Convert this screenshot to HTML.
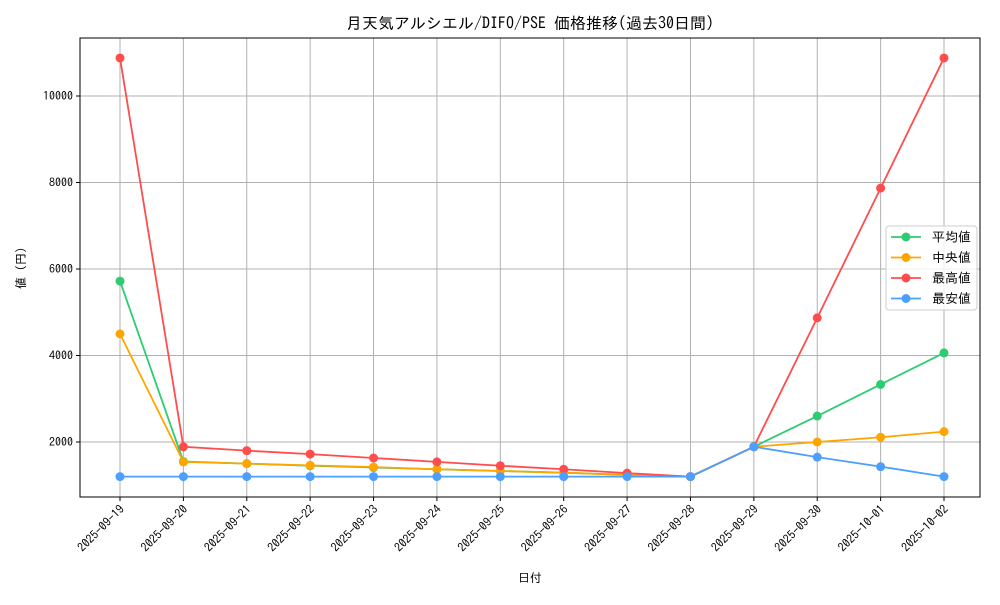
<!DOCTYPE html>
<html><head><meta charset="utf-8">
<style>
body{margin:0;background:#fff;}
svg text{font-family:"IPAGothic","Noto Sans CJK JP",sans-serif;fill:#000;}
</style></head>
<body>
<svg id="chart" width="1000" height="600" xmlns="http://www.w3.org/2000/svg"></svg>
<script>
const categories=["2025-09-19","2025-09-20","2025-09-21","2025-09-22","2025-09-23","2025-09-24","2025-09-25","2025-09-26","2025-09-27","2025-09-28","2025-09-29","2025-09-30","2025-10-01","2025-10-02"];
const avgValues=[5720,1550,1500,1450,1410,1370,1330,1290,1240,1200,1890,2600,3330,4060];
const medianValues=[4500,1540,1500,1460,1420,1370,1330,1290,1240,1200,1890,2000,2110,2240];
const maxValues=[10880,1890,1800,1720,1630,1540,1450,1370,1280,1200,1890,4870,7870,10880];
const minValues=[1200,1200,1200,1200,1200,1200,1200,1200,1200,1200,1890,1650,1430,1200];
const yTicks=[2000,4000,6000,8000,10000];
const seriesNames=["平均値","中央値","最高値","最安値"];
const seriesColors=["#2ecc71","#ffa500","#ff4d4d","#4d9fff"];

const NS="http://www.w3.org/2000/svg";
const svg=document.getElementById('chart');
const L=80,R=980,T=38,B=497;
const x0=120,x1=944;
function xs(i){return x0+(x1-x0)*i/(categories.length-1);}
function ys(v){return 528.5-v*0.04325;}
function mk(tag,attrs,parent){const e=document.createElementNS(NS,tag);for(const k in attrs)e.setAttribute(k,attrs[k]);(parent||svg).appendChild(e);return e;}

categories.forEach((c,i)=>{const g=mk('line',{x1:xs(i),x2:xs(i),y1:T,y2:B,stroke:'#b0b0b0','stroke-width':1});

});
yTicks.forEach(v=>{const g=mk('line',{x1:L,x2:R,y1:ys(v),y2:ys(v),stroke:'#b0b0b0','stroke-width':1});

});

const all=[avgValues,medianValues,maxValues,minValues];
all.forEach((vals,s)=>{
 const pts=vals.map((v,i)=>xs(i)+','+ys(v)).join(' ');
 const pl=mk('polyline',{points:pts,fill:'none',stroke:seriesColors[s],'stroke-width':1.8});
 
 
 vals.forEach((v,i)=>{const c=mk('circle',{cx:xs(i),cy:ys(v),r:4.5,fill:seriesColors[s]});
 
 });
});

const fr=mk('rect',{x:L,y:T,width:R-L,height:B-T,fill:'none',stroke:'#000','stroke-width':1});



yTicks.forEach(v=>{mk('line',{x1:L-4,x2:L,y1:ys(v),y2:ys(v),stroke:'#000'});
 const t=mk('text',{x:L-7,y:ys(v)+4,'text-anchor':'end','font-size':12});t.textContent=v;
 
 });
categories.forEach((c,i)=>{mk('line',{x1:xs(i),x2:xs(i),y1:B,y2:B+4,stroke:'#000'});
 const t=mk('text',{x:xs(i)+5,y:B+13,'text-anchor':'end','font-size':12,transform:`rotate(-45 ${xs(i)+5} ${B+13})`});t.textContent=c;
 
 });

const tt=mk('text',{x:530,y:29,'text-anchor':'middle','font-size':16});tt.textContent='月天気アルシエル/DIFO/PSE 価格推移(過去30日間)';


const xt=mk('text',{x:530,y:582,'text-anchor':'middle','font-size':12});xt.textContent='日付';


const yt=mk('text',{x:25,y:268,'text-anchor':'middle','font-size':12,transform:'rotate(-90 25 268)'});yt.textContent='値 (円)';



const lg=mk('g',{});


mk('rect',{x:886,y:226,width:91,height:84,rx:3,fill:'#fff',stroke:'#ccc','fill-opacity':0.8},lg);
seriesNames.forEach((n,s)=>{const y=237+s*20.5;
 const e=mk('g',{},lg);
 
 
 mk('line',{x1:891,x2:921,y1:y,y2:y,stroke:seriesColors[s],'stroke-width':1.8},e);
 mk('circle',{cx:906,cy:y,r:4.5,fill:seriesColors[s]},e);
 const t=mk('text',{x:932,y:y+4.5,'font-size':13},e);t.textContent=n;});
</script>
</body></html>
